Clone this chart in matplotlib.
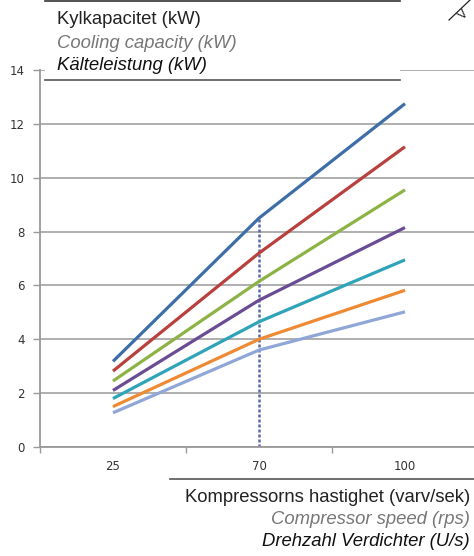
import matplotlib
matplotlib.use("Agg")
import matplotlib.pyplot as plt
from matplotlib.patches import Rectangle
from matplotlib.lines import Line2D

categories = ["25", "70", "100"]
series = [
    [3.18, 8.5, 12.75],
    [2.82, 7.2, 11.15],
    [2.45, 6.15, 9.55],
    [2.1, 5.45, 8.15],
    [1.8, 4.65, 6.95],
    [1.5, 4.0, 5.82],
    [1.27, 3.6, 5.02],
]
colors = ["#3D6EA8", "#B8413E", "#8DB347", "#6A4C93", "#2FA3B8", "#EE8A33", "#8FA6D6"]
yticks = [0, 2, 4, 6, 8, 10, 12, 14]

TF = "Liberation Sans"
TS = 13.3

fig = plt.figure(figsize=(4.74, 5.56), dpi=100)
ax = fig.add_axes([40 / 474, 109 / 556, 438 / 474, 377 / 556])
x = list(range(len(categories)))
for vals, c in zip(series, colors):
    ax.plot(x, vals, color=c, lw=2.3, solid_capstyle="butt", zorder=3)
ax.plot([1, 1], [0, series[0][1]], color="#5A6AA8", lw=1.8, ls=(0, (1.2, 0.8)), zorder=2)

ax.set_xlim(-0.5, 2.5)
ax.set_ylim(0, 14)
ax.set_yticks(yticks)
ax.set_yticklabels([str(v) for v in yticks], fontsize=8.5, color="#333333")
ax.set_xticks(x)
ax.set_xticklabels(categories, fontsize=8.5, color="#333333")
ax.tick_params(axis="x", which="major", length=0, pad=9)
ax.set_xticks([-0.5, 0.5, 1.5, 2.5], minor=True)
ax.tick_params(axis="x", which="minor", length=4, color="#999999", width=1)
ax.tick_params(axis="y", length=5, color="#999999", width=1, pad=6)
ax.grid(axis="y", color="#a8a8a8", lw=1.3, zorder=0)
ax.set_axisbelow(True)
for s in ["top", "right"]:
    ax.spines[s].set_visible(False)
for s in ["left", "bottom"]:
    ax.spines[s].set_color("#999999")
    ax.spines[s].set_linewidth(1.3)

W, H = 474, 556
def fx(px):
    return px / W
def fy(py):
    return 1 - py / H

# Title box
fig.add_artist(Rectangle((fx(45), fy(80)), fx(400) - fx(45), fy(0) - fy(80),
                         transform=fig.transFigure, facecolor="white", edgecolor="none", zorder=5))
fig.add_artist(Line2D([fx(45), fx(400)], [fy(1), fy(1)], transform=fig.transFigure, color="#333333", lw=1.2, zorder=6))
fig.add_artist(Line2D([fx(45), fx(400)], [fy(80), fy(80)], transform=fig.transFigure, color="#555555", lw=1.2, zorder=6))
fig.text(fx(57), fy(20), "Kylkapacitet (kW)", fontsize=TS, family=TF, color="#222222", va="center", ha="left", zorder=7)
fig.text(fx(57), fy(43), "Cooling capacity (kW)", fontsize=TS, family=TF, color="#777777", style="italic", va="center", ha="left", zorder=7)
fig.text(fx(57), fy(66), "Kälteleistung (kW)", fontsize=TS, family=TF, color="#111111", style="italic", va="center", ha="left", zorder=7)

# Cut-off label top right
fig.add_artist(Line2D([fx(449), fx(470)], [fy(20), fy(0)], transform=fig.transFigure, color="#222222", lw=0.9, zorder=6))
fig.text(fx(457), fy(22), "V", fontsize=9, family=TF, color="#222222", rotation=45, va="bottom", ha="left", zorder=7)

# Bottom box
fig.add_artist(Rectangle((fx(170), 0), 1 - fx(170), fy(479),
                         transform=fig.transFigure, facecolor="white", edgecolor="none", zorder=5))
fig.add_artist(Line2D([fx(170), 1], [fy(479), fy(479)], transform=fig.transFigure, color="#555555", lw=1.2, zorder=6))
fig.text(fx(470), fy(498), "Kompressorns hastighet (varv/sek)", fontsize=TS, family=TF, color="#222222", va="center", ha="right", zorder=7)
fig.text(fx(470), fy(520), "Compressor speed (rps)", fontsize=TS, family=TF, color="#777777", style="italic", va="center", ha="right", zorder=7)
fig.text(fx(470), fy(542), "Drehzahl Verdichter (U/s)", fontsize=TS, family=TF, color="#111111", style="italic", va="center", ha="right", zorder=7)

fig.savefig("out.png", dpi=100)
